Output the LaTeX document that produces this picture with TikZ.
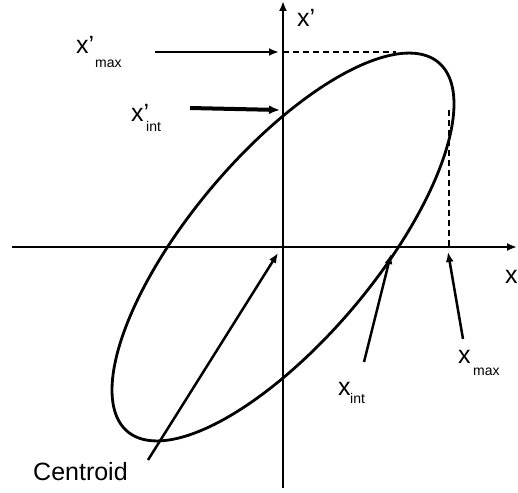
\documentclass[tikz,border=0pt]{standalone}
\usepackage{fontspec}
\setmainfont{Liberation Sans}
\usetikzlibrary{arrows.meta}
\begin{document}
\begin{tikzpicture}[x=1pt,y=-1pt,
  axisline/.style={line width=2.8pt,-{Latex[length=10pt,width=8pt]}},
  curve/.style={line width=2.8pt},
  ptr/.style={line width=2.5pt,-{Latex[length=10pt,width=8pt]}},
  ptrbold/.style={line width=4pt,-{Latex[length=11pt,width=9pt]}},
  guide/.style={line width=1.6pt,dash pattern=on 6pt off 4pt},
  lab/.style={inner sep=0pt,anchor=base west,font=\fontsize{25}{30}\selectfont},
  sublab/.style={inner sep=0pt,anchor=base west,font=\fontsize{14}{16}\selectfont}]
\useasboundingbox (0,0) rectangle (518,492);
% coordinates
\coordinate (O) at (283,247);
\coordinate (vbot) at (283,488);
\coordinate (vtop) at (283,1);
\coordinate (hleft) at (12,247);
\coordinate (hright) at (517,247);
\coordinate (xpmaxS) at (155,52);
\coordinate (xpmaxT) at (279,52);
\coordinate (xpmaxA) at (283,52);
\coordinate (top) at (396,52);
\coordinate (xpintS) at (190,108);
\coordinate (xpintT) at (280,110);
\coordinate (rgt) at (449,110);
\coordinate (xmaxA) at (449,247);
\coordinate (xmaxS) at (463,339);
\coordinate (xmaxT) at (448,252);
\coordinate (xintS) at (364,362);
\coordinate (xintT) at (391,254);
\coordinate (cenS) at (148,460);
\coordinate (cenT) at (278,253);
% axes
\draw[axisline] (vbot) -- (vtop);
\draw[axisline] (hleft) -- (hright);
% ellipse
\draw[curve] plot[domain=0:360,samples=240,smooth cycle]
  ({283+171*cos(\x)},{247-(143*cos(\x)+131*sin(\x))});
% dashed guides
\draw[guide] (xpmaxA) -- (top);
\draw[guide] (rgt) -- (xmaxA);
% pointers
\draw[ptr] (xpmaxS) -- (xpmaxT);
\draw[ptrbold] (xpintS) -- (xpintT);
\draw[ptr] (xmaxS) -- (xmaxT);
\draw[ptr] (xintS) -- (xintT);
\draw[ptr] (cenS) -- (cenT);
% labels
\node[lab] (xpax) at (297,27) {x'};
\node[lab] (xax) at (505,283) {x};
\node[lab] (xpmax) at (76,54) {x'};
\node[sublab] (xpmaxsub) at (95,68) {max};
\node[lab] (xpint) at (131,121) {x'};
\node[sublab] (xpintsub) at (146,131) {int};
\node[lab] (xmax) at (458,363) {x};
\node[sublab] (xmaxsub) at (473,375) {max};
\node[lab] (xint) at (338,395) {x};
\node[sublab] (xintsub) at (350,403) {int};
\node[lab] (cen) at (33,480) {Centroid};
\end{tikzpicture}
\end{document}
